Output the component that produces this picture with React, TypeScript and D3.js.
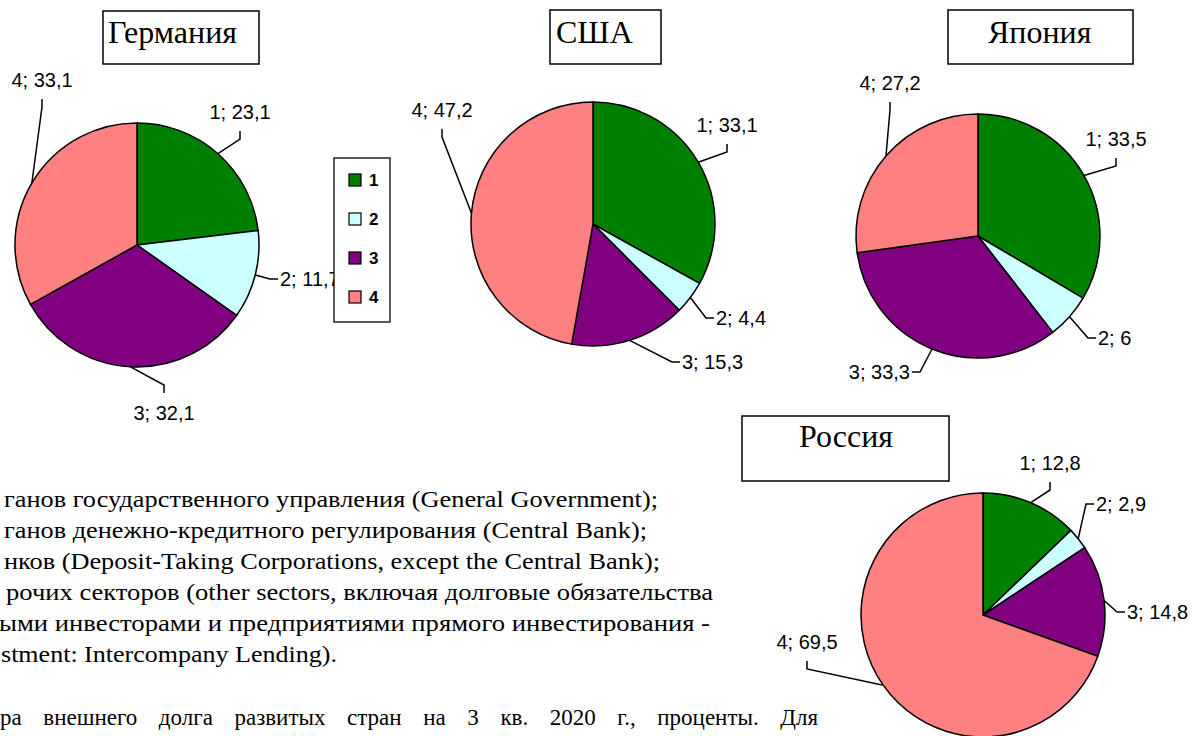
import React from 'react';
import * as d3 from 'd3';

// Sector shares of external debt, %, 3rd quarter 2020
const sectors = ['1', '2', '3', '4'];
const countries = ['Германия', 'США', 'Япония', 'Россия'];
const germany = [23.1, 11.7, 32.1, 33.1];
const usa = [33.1, 4.4, 15.3, 47.2];
const japan = [33.5, 6, 33.3, 27.2];
const russia = [12.8, 2.9, 14.8, 69.5];

const sectorColors = ['#008000', '#CCFFFF', '#800080', '#FF8080'];

// Notes under the charts (cropped page text)
const noteLines = [
  'ганов государственного управления (General Government);',
  'ганов денежно-кредитного регулирования (Central Bank);',
  'нков (Deposit-Taking Corporations, except the Central Bank);',
  'рочих секторов (other sectors, включая долговые обязательства',
  'ыми инвесторами и предприятиями прямого инвестирования -',
  'stment: Intercompany Lending).',
];
const captionWords = ['ра', 'внешнего', 'долга', 'развитых', 'стран', 'на', '3', 'кв.', '2020', 'г.,', 'проценты.', 'Для'];

// layout of the four pies: center, title box, label placement (offsets from center)
type Side = 'b' | 't' | 'l' | 'r';
const pieLayout = [
  { cx: 137, cy: 245, box: [103, 11, 156, 53], titleX: 108, titleY: 43,
    labels: [[103, -133, 'b'], [143, 34, 'l'], [27, 168, 't'], [-95, -165, 'b']] },
  { cx: 593, cy: 224, box: [550, 10, 111, 54], titleX: 556, titleY: 43,
    labels: [[134, -99, 'b'], [123, 94, 'l'], [89, 138, 'l'], [-151, -114, 'b']] },
  { cx: 978, cy: 236, box: [948, 10, 185, 54], titleX: 988, titleY: 43,
    labels: [[138, -97, 'b'], [120, 102, 'l'], [-68, 136, 'r'], [-88, -153, 'b']] },
  { cx: 983, cy: 615, box: [742, 416, 207, 65], titleX: 799, titleY: 447,
    labels: [[67, -152, 'b'], [113, -111, 'l'], [144, -3, 'l'], [-176, 27, 'b']] },
];

const SERIF = "'Liberation Serif', 'Times New Roman', serif";
const SANS = "'Liberation Sans', Arial, sans-serif";
const R = 122;

const pie = d3.pie<number>().sort(null).value(d => d);
const arc = d3.arc<d3.PieArcDatum<number>>().innerRadius(0).outerRadius(R);
const fmt = (v: number) => String(v).replace('.', ',');

// measure words for the justified caption line
const measure = (() => {
  const ctx = typeof document !== 'undefined' ? document.createElement('canvas').getContext('2d') : null;
  return (t: string) => {
    if (!ctx) return t.length * 11;
    ctx.font = "23px 'Liberation Serif'";
    return ctx.measureText(t).width;
  };
})();

const PieChart = ({ values, idx }: { values: number[]; idx: number }) => {
  const lay = pieLayout[idx];
  const arcs = pie(values);
  const [bx0, by0, bw, bh] = lay.box;
  return (
    <g>
      <g transform={`translate(${lay.cx},${lay.cy})`}>
        {arcs.map((a, j) => (
          <path key={j} d={arc(a) || ''} fill={sectorColors[j]} stroke="#000" strokeWidth={1.5} strokeLinejoin="round" />
        ))}
        {arcs.map((a, j) => {
          const mid = (a.startAngle + a.endAngle) / 2;
          const ex = R * Math.sin(mid);
          const ey = -R * Math.cos(mid);
          const [lx, ly, side] = lay.labels[j] as [number, number, Side];
          let ax = lx, ay = ly, bx = lx, by = ly;
          let anchor: 'middle' | 'start' | 'end' = 'middle';
          if (side === 'b') { ay = ly + 19; by = ly + 27; }
          if (side === 't') { ay = ly - 20; by = ly - 28; }
          if (side === 'l') { ax = lx - 2; bx = lx - 10; anchor = 'start'; }
          if (side === 'r') { ax = lx + 2; bx = lx + 10; anchor = 'end'; }
          return (
            <g key={'l' + j}>
              <polyline points={`${ex},${ey} ${bx},${by} ${ax},${ay}`} fill="none" stroke="#000" strokeWidth={1.5} />
              <text x={lx} y={ly + 7} textAnchor={anchor} style={{ fontFamily: SANS, fontSize: 20 }} fill="#000">
                {`${sectors[j]}; ${fmt(values[j])}`}
              </text>
            </g>
          );
        })}
      </g>
      <rect x={bx0} y={by0} width={bw} height={bh} fill="#fff" stroke="#000" strokeWidth={1.5} />
      <text x={lay.titleX} y={lay.titleY} style={{ fontFamily: SERIF, fontSize: 32 }} fill="#000">
        {countries[idx]}
      </text>
    </g>
  );
};

const App = () => {
  const allData = [germany, usa, japan, russia];
  const legendY = d3.scalePoint<string>().domain(sectors).range([180, 297]);

  // page text below the charts
  const starts = [4, 4, 4, 6, -1, 1];
  const ends = [658, 647, 660, 713, 710, 337];
  const baselines = [507, 538, 569, 600, 631, 662];

  const widths = captionWords.map(measure);
  const gap = (818 - d3.sum(widths)) / (captionWords.length - 1);
  const wordX = widths.map((w, k) => d3.sum(widths.slice(0, k)) + gap * k);

  return (
    <div style={{ position: 'absolute', left: 0, top: 0, width: 1194, height: 736, background: '#fff' }}>
      <svg width={1194} height={736} style={{ display: 'block' }}>
        <rect width={1194} height={736} fill="#fff" />
        {allData.map((v, i) => <PieChart key={i} values={v} idx={i} />)}

        {/* legend, drawn over the Germany label as in the original */}
        <rect x={334} y={158} width={56} height={164} fill="#fff" stroke="#000" strokeWidth={1.3} />
        {sectors.map((s, j) => (
          <g key={s}>
            <rect x={349} y={legendY(s)! - 6} width={12} height={12} fill={sectorColors[j]} stroke="#000" strokeWidth={1.2} />
            <text x={369} y={legendY(s)! + 6} style={{ fontFamily: SANS, fontSize: 17, fontWeight: 'bold' }}>{s}</text>
          </g>
        ))}

        {noteLines.map((t, k) => (
          <text key={k} x={starts[k]} y={baselines[k]} textLength={ends[k] - starts[k]} lengthAdjust="spacingAndGlyphs"
            style={{ fontFamily: SERIF, fontSize: 23 }}>
            {t}
          </text>
        ))}
        {captionWords.map((w, k) => (
          <text key={'c' + k} x={wordX[k]} y={725} style={{ fontFamily: SERIF, fontSize: 23 }}>{w}</text>
        ))}
      </svg>
    </div>
  );
};

export default App;
